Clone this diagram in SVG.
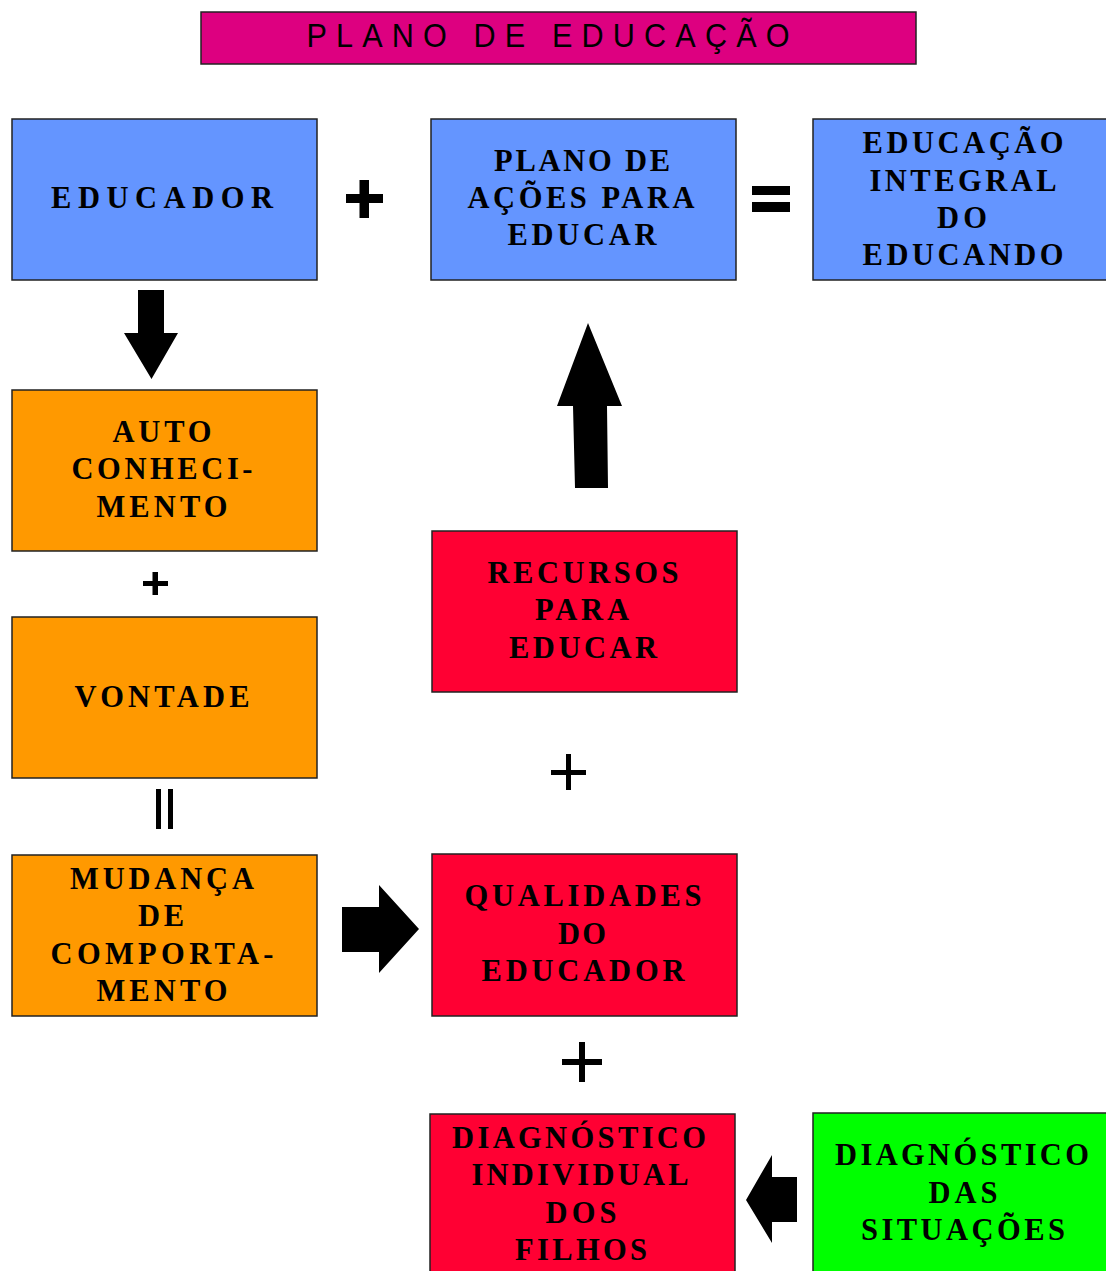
<svg xmlns="http://www.w3.org/2000/svg" width="1106" height="1271" viewBox="0 0 1106 1271">
<style>
.box{stroke:#222;stroke-width:1.5}
.blue{fill:#6495FF}
.orange{fill:#FF9900}
.red{fill:#FF0033}
.green{fill:#00FF00}
.t{font-family:"Liberation Serif","Times New Roman",serif;font-weight:bold;font-size:30.5px;fill:#000;text-anchor:middle}
.sym{fill:#000}
</style>
<rect width="1106" height="1271" fill="#fff"/>
<g id="title">
<rect x="201" y="12" width="715" height="52" fill="#DD0080" stroke="#222" stroke-width="1.5"/>
<text transform="scale(0.9 1)" x="608.9" y="47" font-family="'Liberation Sans',Arial,sans-serif" font-size="34" text-anchor="middle" textLength="536.7" lengthAdjust="spacing">PLANO DE EDUCAÇÃO</text>
</g>
<g id="educador">
<rect class="box blue" x="12" y="119" width="305" height="161"/>
<text class="t" x="162" y="208" font-size="35" textLength="222" lengthAdjust="spacing">EDUCADOR</text>
</g>
<g id="plano">
<rect class="box blue" x="431" y="119" width="305" height="161"/>
<text class="t" x="582" y="171" textLength="176" lengthAdjust="spacing">PLANO DE</text>
<text class="t" x="581" y="208" textLength="227" lengthAdjust="spacing">AÇÕES PARA</text>
<text class="t" x="582" y="245" textLength="149" lengthAdjust="spacing">EDUCAR</text>
</g>
<g id="educacao-integral">
<rect class="box blue" x="813" y="119" width="300" height="161"/>
<text class="t" x="963" y="153" textLength="201" lengthAdjust="spacing">EDUCAÇÃO</text>
<text class="t" x="963" y="191" textLength="187" lengthAdjust="spacing">INTEGRAL</text>
<text class="t" x="962" y="228" textLength="50" lengthAdjust="spacing">DO</text>
<text class="t" x="963" y="265" textLength="201" lengthAdjust="spacing">EDUCANDO</text>
</g>
<g id="autoconhecimento">
<rect class="box orange" x="12" y="390" width="305" height="161"/>
<text class="t" x="162" y="442" textLength="99" lengthAdjust="spacing">AUTO</text>
<text class="t" x="162" y="479" textLength="181" lengthAdjust="spacing">CONHECI-</text>
<text class="t" x="162" y="517" textLength="131" lengthAdjust="spacing">MENTO</text>
</g>
<g id="vontade">
<rect class="box orange" x="12" y="617" width="305" height="161"/>
<text class="t" x="162" y="707" textLength="175" lengthAdjust="spacing">VONTADE</text>
</g>
<g id="mudanca">
<rect class="box orange" x="12" y="855" width="305" height="161"/>
<text class="t" x="162" y="889" textLength="184" lengthAdjust="spacing">MUDANÇA</text>
<text class="t" x="161" y="926" textLength="46" lengthAdjust="spacing">DE</text>
<text class="t" x="162" y="964" textLength="223" lengthAdjust="spacing">COMPORTA-</text>
<text class="t" x="162" y="1001" textLength="131" lengthAdjust="spacing">MENTO</text>
</g>
<g id="recursos">
<rect class="box red" x="432" y="531" width="305" height="161"/>
<text class="t" x="583" y="583" textLength="191" lengthAdjust="spacing">RECURSOS</text>
<text class="t" x="582" y="620" textLength="94" lengthAdjust="spacing">PARA</text>
<text class="t" x="583" y="658" textLength="148" lengthAdjust="spacing">EDUCAR</text>
</g>
<g id="qualidades">
<rect class="box red" x="432" y="854" width="305" height="162"/>
<text class="t" x="583" y="906" textLength="237" lengthAdjust="spacing">QUALIDADES</text>
<text class="t" x="582" y="944" textLength="48" lengthAdjust="spacing">DO</text>
<text class="t" x="583" y="981" textLength="203" lengthAdjust="spacing">EDUCADOR</text>
</g>
<g id="diagnostico-individual">
<rect class="box red" x="430" y="1114" width="305" height="165"/>
<text class="t" x="579" y="1148" textLength="254" lengthAdjust="spacing">DIAGNÓSTICO</text>
<text class="t" x="580" y="1185" textLength="217" lengthAdjust="spacing">INDIVIDUAL</text>
<text class="t" x="581" y="1223" textLength="71" lengthAdjust="spacing">DOS</text>
<text class="t" x="581" y="1260" textLength="132" lengthAdjust="spacing">FILHOS</text>
</g>
<g id="diagnostico-situacoes">
<rect class="box green" x="813" y="1113" width="300" height="166"/>
<text class="t" x="962" y="1165" textLength="254" lengthAdjust="spacing">DIAGNÓSTICO</text>
<text class="t" x="963" y="1203" textLength="69" lengthAdjust="spacing">DAS</text>
<text class="t" x="963" y="1240" textLength="204" lengthAdjust="spacing">SITUAÇÕES</text>
</g>
<g id="connectors">
<polygon class="sym" points="138,290 164,290 164,333 178,333 151.5,379 124,333 138,333"/>
<polygon class="sym" points="588,323 622,406 607,406 608,488 575,488 573,406 557,406"/>
<polygon class="sym" points="342,907 379,907 379,885 419,929 379,973 379,952 342,952"/>
<polygon class="sym" points="797,1177 772,1177 772,1155 746,1200 772,1243 772,1222 797,1222"/>
</g>
<g id="operators">
<rect class="sym" x="346" y="194" width="37" height="9"/>
<rect class="sym" x="359.5" y="180" width="9.5" height="38"/>
<rect class="sym" x="752" y="186" width="38" height="9"/>
<rect class="sym" x="752" y="202" width="38" height="10"/>
<rect class="sym" x="143" y="581" width="25" height="5"/>
<rect class="sym" x="152.5" y="572" width="5.5" height="23"/>
<rect class="sym" x="156" y="789" width="5" height="40"/>
<rect class="sym" x="168" y="789" width="5" height="40"/>
<rect class="sym" x="551" y="770" width="35" height="5"/>
<rect class="sym" x="566" y="754" width="5" height="36"/>
<rect class="sym" x="562" y="1059" width="40" height="6"/>
<rect class="sym" x="579" y="1042" width="6" height="40"/>
</g>
</svg>
